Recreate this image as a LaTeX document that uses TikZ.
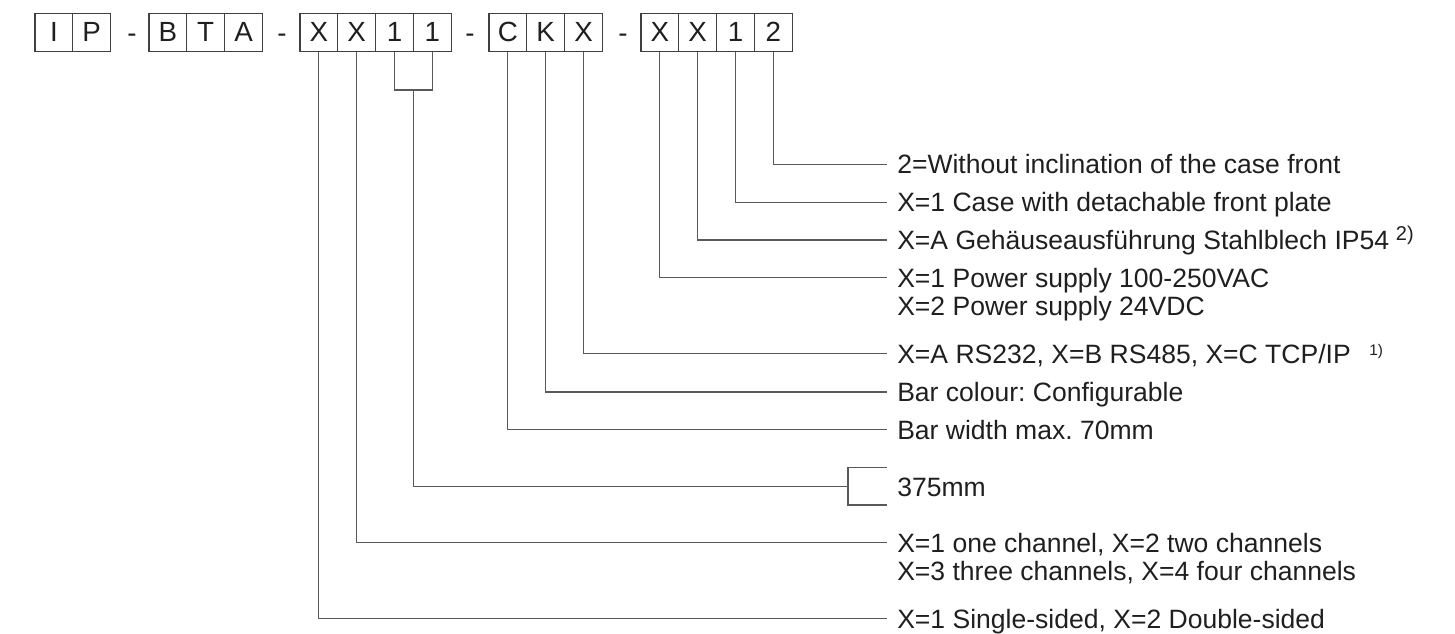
\documentclass[tikz,border=0pt]{standalone}
\usepackage{fontspec}
\setmainfont{Liberation Sans}
\frenchspacing
\begin{document}
\begin{tikzpicture}[x=0.75pt,y=-0.75pt,
  txt/.style={font=\fontsize{19.9}{22}\selectfont,text=black!88},
  boxtxt/.style={font=\fontsize{20.8}{22}\selectfont,text=black!88},
  box/.style={boxtxt,draw=black!75,line width=0.8pt,minimum width=28.35pt,minimum height=28.35pt,inner sep=0pt},
  dashsym/.style={boxtxt,inner sep=0pt,anchor=base},
  lbl/.style={txt,anchor=base west,inner sep=0pt},
  conn/.style={draw=black!65,line width=0.8pt}]
\useasboundingbox (0,0) rectangle (1455,633);
% ---- code boxes ----
\node[box] (a1) at (53.9,32.2) {I};
\node[box] (a2) at (91.7,32.2) {P};
\node[dashsym] (d1) at (132,42.2) {-};
\node[box] (b1) at (167.9,32.2) {B};
\node[box] (b2) at (205.7,32.2) {T};
\node[box] (b3) at (243.5,32.2) {A};
\node[dashsym] (d2) at (282,42.2) {-};
\node[box] (c1) at (318.9,32.2) {X};
\node[box] (c2) at (356.7,32.2) {X};
\node[box] (c3) at (394.5,32.2) {1};
\node[box] (c4) at (432.3,32.2) {1};
\node[dashsym] (d3) at (470,42.2) {-};
\node[box] (e1) at (507.9,32.2) {C};
\node[box] (e2) at (545.7,32.2) {K};
\node[box] (e3) at (583.5,32.2) {X};
\node[dashsym] (d4) at (623,42.2) {-};
\node[box] (f1) at (659.9,32.2) {X};
\node[box] (f2) at (697.7,32.2) {X};
\node[box] (f3) at (735.5,32.2) {1};
\node[box] (f4) at (773.3,32.2) {2};
% ---- line ends ----
\coordinate (p1) at (886.5,164.3);
\coordinate (p2) at (886.5,202.3);
\coordinate (p3) at (886.5,240);
\coordinate (p4) at (886.5,277.5);
\coordinate (p5) at (886.5,353.5);
\coordinate (p6) at (886.5,392);
\coordinate (p7) at (886.5,429.5);
\coordinate (p9) at (886.5,542.7);
\coordinate (p10) at (886.5,618.5);
\coordinate (br) at (413.4,90);
\coordinate (bk) at (848,486.7);
\coordinate (bt) at (886.5,467.7);
\coordinate (bb) at (886.5,505);
% ---- labels ----
\node[lbl] (l1) at (897,173.8) {2=Without inclination of the case front};
\node[lbl] (l2) at (897,211.8) {X=1 Case with detachable front plate};
\node[lbl] (l3) at (897,249.5) {X=A Gehäuseausführung Stahlblech IP54\hspace{5pt}\raisebox{6.5pt}{\fontsize{15}{15}\selectfont 2)}};
\node[lbl] (l4) at (897,287) {X=1 Power supply 100-250VAC};
\node[lbl] (l4b) at (897,315) {X=2 Power supply 24VDC};
\node[lbl] (l5) at (897,363) {X=A RS232, X=B RS485, X=C TCP/IP\hspace{14pt}\raisebox{6pt}{\fontsize{11.5}{12}\selectfont 1)}};
\node[lbl] (l6) at (897,401.5) {Bar colour: Configurable};
\node[lbl] (l7) at (897,439) {Bar width max. 70mm};
\node[lbl] (l8) at (897,496) {375mm};
\node[lbl] (l9) at (897,552.2) {X=1 one channel, X=2 two channels};
\node[lbl] (l9b) at (897,580.2) {X=3 three channels, X=4 four channels};
\node[lbl] (l10) at (897,628) {X=1 Single-sided, X=2 Double-sided};
% ---- connectors ----
\draw[conn] (f4.south) |- (p1);
\draw[conn] (f3.south) |- (p2);
\draw[conn] (f2.south) |- (p3);
\draw[conn] (f1.south) |- (p4);
\draw[conn] (e3.south) |- (p5);
\draw[conn] (e2.south) |- (p6);
\draw[conn] (e1.south) |- (p7);
\draw[conn] (c3.south) |- (br) -| (c4.south);
\draw[conn] (br) |- (bk);
\draw[conn] (bt) -| (bk) |- (bb);
\draw[conn] (c2.south) |- (p9);
\draw[conn] (c1.south) |- (p10);
\end{tikzpicture}
\end{document}
